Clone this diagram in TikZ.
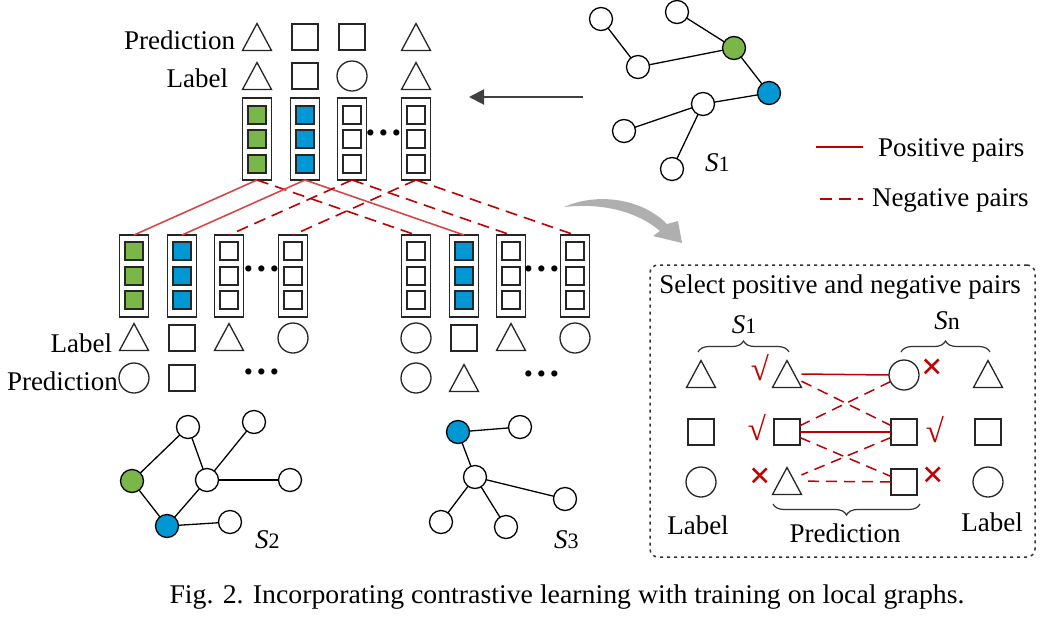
\documentclass[tikz,border=0pt]{standalone}
\usepackage{fontspec}
\setmainfont{Liberation Serif}
\usetikzlibrary{shapes.geometric,decorations.pathreplacing,arrows.meta}
\definecolor{ngreen}{RGB}{122,182,72}
\definecolor{nblue}{RGB}{0,152,212}
\definecolor{posred}{RGB}{212,72,72}
\definecolor{negred}{RGB}{192,0,0}
\definecolor{arrgray}{RGB}{175,175,175}
\definecolor{darkarr}{RGB}{64,64,64}
\begin{document}
\begin{tikzpicture}[x=1pt,y=-1pt,
 every node/.style={inner sep=0pt,outer sep=0pt},
 txt/.style={font=\fontsize{27}{30}\selectfont},
 sqr/.style={draw=black!85,line width=1.3pt,minimum size=26pt},
 circ/.style={draw=black!85,circle,line width=1.3pt,minimum size=30pt},
 tri/.style={minimum width=29pt,minimum height=27pt,
   append after command={\pgfextra{\draw[black!85,line width=1.3pt]
     (\tikzlastnode.south west) -- (\tikzlastnode.south east) -- (\tikzlastnode.north) -- cycle;}}},
 colbox/.style={draw=black!85,line width=1.1pt,minimum width=29pt,minimum height=82pt},
 cell/.style={draw=black!85,line width=1.1pt,minimum size=18pt},
 gnode/.style={circle,draw=black,line width=1.3pt,minimum size=23pt,fill=white},
 gedge/.style={line width=1.3pt,black},
 posline/.style={posred,line width=1.6pt},
 negline/.style={negred,line width=1.6pt,dash pattern=on 12pt off 7pt},
 boxpos/.style={negred,line width=1.5pt},
 boxneg/.style={negred,line width=1.5pt,dash pattern=on 11pt off 7pt},
 okmark/.style={text=negred,font=\fontsize{33}{34}\selectfont},
 nomark/.style={text=negred,font=\bfseries\fontsize{38}{40}\selectfont},
 dotsn/.style={font=\bfseries\fontsize{38}{40}\selectfont},
 bracest/.style={decorate,decoration={brace,amplitude=11pt},line width=1.2pt,black!80},
]
\useasboundingbox (0,0) rectangle (1050,622);

% ---------- top columns ----------
\foreach \n/\x/\c in {1/257/ngreen,2/305/nblue,3/352/white,4/416/white}{
  \node[colbox] (t\n) at (\x,139) {};
  \node[cell,fill=\c] (t\n-a) at (\x,115) {};
  \node[cell,fill=\c] (t\n-b) at (\x,139) {};
  \node[cell,fill=\c] (t\n-c) at (\x,164) {};
}
\foreach \n/\x/\c in {1/134/ngreen,2/182/nblue,3/229/white,4/293/white}{
  \node[colbox] (l\n) at (\x,276) {};
  \node[cell,fill=\c] (l\n-a) at (\x,251) {};
  \node[cell,fill=\c] (l\n-b) at (\x,276) {};
  \node[cell,fill=\c] (l\n-c) at (\x,300) {};
}
\foreach \n/\x/\c in {1/416/white,2/464/nblue,3/511/white,4/575/white}{
  \node[colbox] (r\n) at (\x,276) {};
  \node[cell,fill=\c] (r\n-a) at (\x,251) {};
  \node[cell,fill=\c] (r\n-b) at (\x,276) {};
  \node[cell,fill=\c] (r\n-c) at (\x,300) {};
}
\node[dotsn] (tdots) at (384,138) {···};
\node[dotsn] (ldots) at (262,274) {···};
\node[dotsn] (rdots) at (542,274) {···};
\node[dotsn] (lpdots) at (262,377) {···};
\node[dotsn] (rpdots) at (542,379) {···};

% connectors between columns
\draw[posline] (t1.south) -- (l1.north);
\draw[negline] (t1.south) -- (r1.north);
\draw[posline] (t2.south) -- (l2.north);
\draw[posline] (t2.south) -- (r2.north);
\draw[negline] (t3.south) -- (l3.north);
\draw[negline] (t3.south) -- (r3.north);
\draw[negline] (t4.south) -- (l4.north);
\draw[negline] (t4.south) -- (r4.north);

% ---------- top prediction/label ----------
\node[txt,anchor=base east] (tpredtxt) at (235,49) {Prediction};
\node[txt,anchor=base east] (tlabtxt) at (228,87) {Label};
\node[tri] (tp1) at (257,37) {};
\node[sqr] (tp2) at (305,37) {};
\node[sqr] (tp3) at (352,37) {};
\node[tri] (tp4) at (416,37) {};
\node[tri] (tl1) at (257,76) {};
\node[sqr] (tl2) at (305,76) {};
\node[circ] (tl3) at (352,76) {};
\node[tri] (tl4) at (416,76) {};

% ---------- bottom label/prediction ----------
\node[txt,anchor=base east] (blabtxt) at (112,352) {Label};
\node[txt,anchor=base west] (bpredtxt) at (7,390) {Prediction};
\node[tri] (bl1) at (134,337) {};
\node[sqr] (bl2) at (182,338) {};
\node[tri] (bl3) at (229,337) {};
\node[circ] (bl4) at (293,338) {};
\node[circ] (bp1) at (134,378) {};
\node[sqr] (bp2) at (182,378) {};
\node[circ] (br1) at (416,338) {};
\node[sqr] (br2) at (464,338) {};
\node[tri] (br3) at (511,337) {};
\node[circ] (br4) at (575,338) {};
\node[circ] (brp1) at (416,378) {};
\node[tri] (brp2) at (464,378) {};

% ---------- graph S1 ----------
\node[gnode] (s1a) at (601,19) {};
\node[gnode] (s1b) at (677,12) {};
\node[gnode,fill=ngreen] (s1g) at (734,48) {};
\node[gnode] (s1c) at (638,67) {};
\node[gnode,fill=nblue] (s1u) at (769,93) {};
\node[gnode] (s1d) at (703,104) {};
\node[gnode] (s1e) at (624,131) {};
\node[gnode] (s1f) at (672,169) {};
\draw[gedge] (s1a) -- (s1c);
\draw[gedge] (s1c) -- (s1g);
\draw[gedge] (s1b) -- (s1g);
\draw[gedge] (s1g) -- (s1u);
\draw[gedge] (s1u) -- (s1d);
\draw[gedge] (s1d) -- (s1e);
\draw[gedge] (s1d) -- (s1f);
\node[txt,anchor=base west] (s1lab) at (705,171) {\textit{S}{\fontsize{22}{24}\selectfont 1}};

% ---------- graph S2 ----------
\node[gnode] (s2a) at (188,427) {};
\node[gnode] (s2b) at (254,422) {};
\node[gnode,fill=ngreen] (s2g) at (132,481) {};
\node[gnode] (s2c) at (207,480) {};
\node[gnode] (s2d) at (290,480) {};
\node[gnode,fill=nblue] (s2u) at (167,526) {};
\node[gnode] (s2e) at (230,522) {};
\draw[gedge] (s2g) -- (s2a);
\draw[gedge] (s2a) -- (s2c);
\draw[gedge] (s2b) -- (s2c);
\draw[gedge] (s2c) -- (s2d);
\draw[gedge] (s2c) -- (s2u);
\draw[gedge] (s2g) -- (s2u);
\draw[gedge] (s2u) -- (s2e);
\node[txt,anchor=base west] (s2lab) at (255,548) {\textit{S}{\fontsize{22}{24}\selectfont 2}};

% ---------- graph S3 ----------
\node[gnode,fill=nblue] (s3u) at (458,432) {};
\node[gnode] (s3f) at (520,427) {};
\node[gnode] (s3g) at (475,477) {};
\node[gnode] (s3h) at (565,499) {};
\node[gnode] (s3i) at (441,522) {};
\node[gnode] (s3j) at (506,527) {};
\draw[gedge] (s3u) -- (s3f);
\draw[gedge] (s3u) -- (s3g);
\draw[gedge] (s3g) -- (s3h);
\draw[gedge] (s3g) -- (s3i);
\draw[gedge] (s3g) -- (s3j);
\node[txt,anchor=base west] (s3lab) at (554,548) {\textit{S}{\fontsize{22}{24}\selectfont 3}};

% ---------- arrows ----------
\coordinate (arA) at (583,97);
\coordinate (arB) at (469,97);
\draw[darkarr,line width=2pt,-{Triangle[length=15pt,width=15pt]}] (arA) -- (arB);
\fill[arrgray] (564,207) .. controls (595,193) and (640,197) .. (667,224)
  -- (678,221) -- (682,243) -- (653,236) -- (660,231)
  .. controls (635,210) and (600,203) .. (564,207) -- cycle;

% ---------- legend ----------
\coordinate (lgp1) at (816,147);
\coordinate (lgp2) at (863,147);
\coordinate (lgn1) at (820,199);
\coordinate (lgn2) at (863,199);
\draw[negred,line width=1.6pt] (lgp1) -- (lgp2);
\draw[negred,line width=1.6pt,dash pattern=on 12pt off 7pt] (lgn1) -- (lgn2);
\node[txt,anchor=base west] (lgptxt) at (878,156) {Positive pairs};
\node[txt,anchor=base west] (lgntxt) at (872,206) {Negative pairs};

% ---------- right box ----------
\node[draw=black!80,dash pattern=on 3pt off 4pt,rounded corners=8pt,line width=1.5pt,minimum width=385pt,minimum height=292pt] (selbox) at (842.5,411) {};
\node[txt,anchor=base] (seltxt) at (840,293) {Select positive and negative pairs};
% columns
\node[tri] (c1a) at (701,374) {};
\node[sqr] (c1b) at (701,432) {};
\node[circ] (c1c) at (701,482) {};
\node[tri] (p1a) at (787,374) {};
\node[sqr] (p1b) at (787,432) {};
\node[tri] (p1c) at (787,481) {};
\node[circ] (p2a) at (904,375) {};
\node[sqr] (p2b) at (904,432) {};
\node[sqr] (p2c) at (904,482) {};
\node[tri] (c2a) at (988,374) {};
\node[sqr] (c2b) at (988,432) {};
\node[circ] (c2c) at (988,482) {};
% pair lines
\draw[boxpos] (p1a.east) -- (p2a.west);
\draw[boxpos] (p1b) -- (p2b);
\draw[boxneg] (p1a) -- (p2b);
\draw[boxneg] (p2a) -- (p1b);
\draw[boxneg] (p1b) -- (p2c);
\draw[boxneg] (p2b) -- (p1c);
\draw[boxneg] (p2c) -- (p1c);
% marks
\node[okmark] (m1) at (760,368) {√};
\node[okmark] (m2) at (757,428) {√};
\node[nomark] (m3) at (760,478) {×};
\node[nomark] (m4) at (932,369) {×};
\node[okmark] (m5) at (935,430) {√};
\node[nomark] (m6) at (933,477) {×};
% braces
\coordinate (bs1a) at (698,352);
\coordinate (bs1b) at (789,352);
\coordinate (bsna) at (901,352);
\coordinate (bsnb) at (990,352);
\coordinate (bpa) at (920,504);
\coordinate (bpb) at (773,504);
\draw[bracest] (bs1a) -- (bs1b);
\draw[bracest] (bsna) -- (bsnb);
\draw[bracest] (bpa) -- (bpb);
\node[txt,anchor=base] (bs1txt) at (744,333) {\textit{S}{\fontsize{22}{24}\selectfont 1}};
\node[txt,anchor=base] (bsntxt) at (947,329) {\textit{S}{\fontsize{24}{24}\selectfont n}};
\node[txt,anchor=base] (blab1) at (698,534) {Label};
\node[txt,anchor=base] (blab2) at (992,531) {Label};
\node[txt,anchor=base] (bpred) at (845,542) {Prediction};

% ---------- caption ----------
\node[txt,anchor=base] (caption) at (567,603) {\resizebox{795pt}{\height}{Fig. 2. Incorporating contrastive learning with training on local graphs.}};
\end{tikzpicture}
\end{document}
